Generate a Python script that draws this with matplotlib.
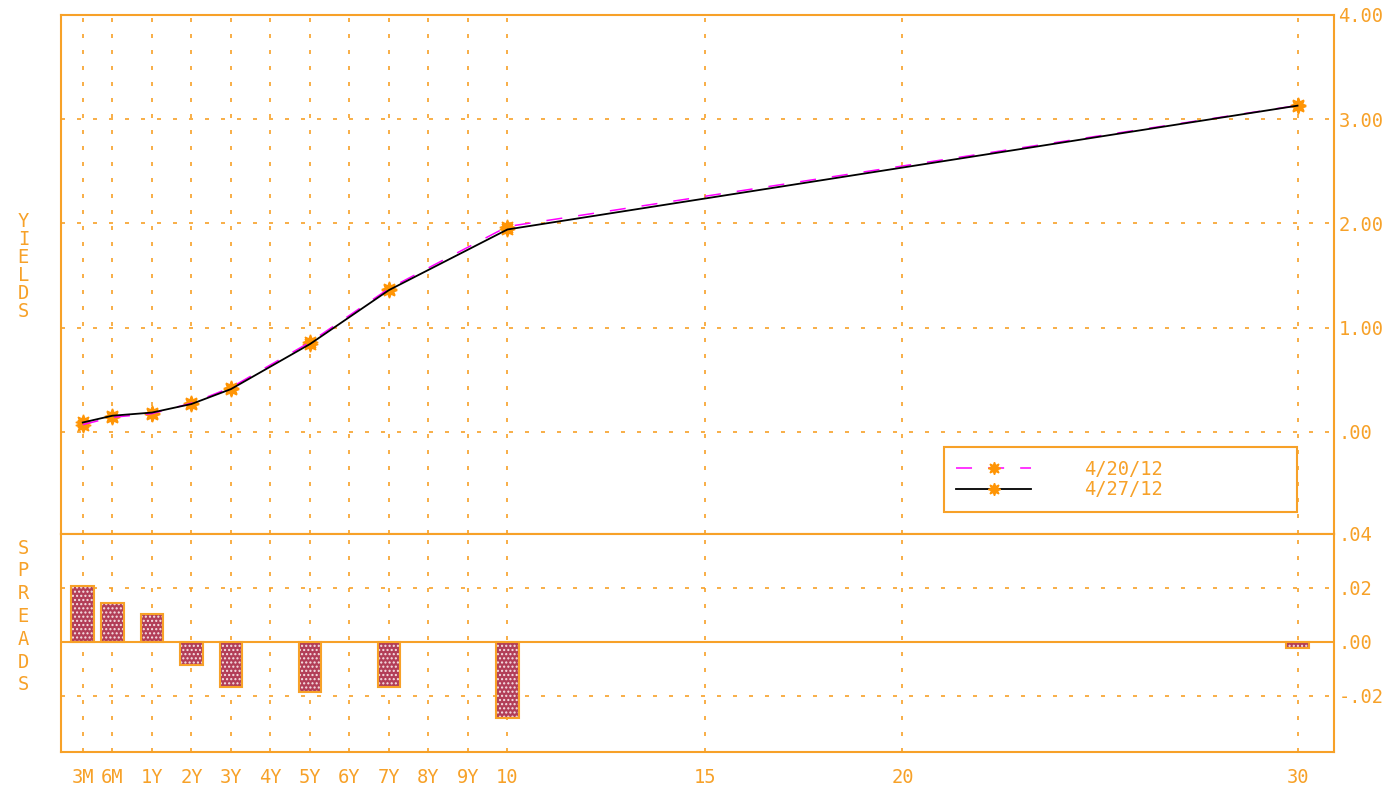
import matplotlib.pyplot as plt
from matplotlib.lines import Line2D

# axis tenors and where the chart puts them (in years, 3M sits left of 6M)
tenors = ['3M', '6M', '1Y', '2Y', '3Y', '4Y', '5Y', '6Y', '7Y', '8Y', '9Y', '10', '15', '20', '30']
tenor_pos = [-0.75, 0, 1, 2, 3, 4, 5, 6, 7, 8, 9, 10, 15, 20, 30]

# observed points
obs_tenors = ['3M', '6M', '1Y', '2Y', '3Y', '5Y', '7Y', '10', '30']
yld_0420 = [0.07, 0.14, 0.175, 0.275, 0.425, 0.86, 1.375, 1.97, 3.132]
yld_0427 = [0.09, 0.155, 0.185, 0.267, 0.41, 0.842, 1.36, 1.942, 3.13]
spreads = [0.0206, 0.0145, 0.0102, -0.0086, -0.0166, -0.0186, -0.0166, -0.0282, -0.0022]

yield_ticks = [0, 1, 2, 3, 4]
yield_labels = ['.00', '1.00', '2.00', '3.00', '4.00']
spread_ticks = [-0.02, 0, 0.02, 0.04]
spread_labels = ['-.02', '.00', '.02', '.04']

orange = '#F7A128'
marker_orange = '#FF9505'
plt.rcParams['font.family'] = 'DejaVu Sans Mono'
plt.rcParams['font.size'] = 13.5
plt.rcParams['hatch.linewidth'] = 1.0

pos = dict(zip(tenors, tenor_pos))
x = [pos[t] for t in obs_tenors]

fig = plt.figure(figsize=(13.9, 7.89), dpi=100)
ax1 = fig.add_axes([0.0439, 0.3232, 0.9160, 0.6578])
ax2 = fig.add_axes([0.0439, 0.0465, 0.9160, 0.2767], sharex=ax1)

star = (8, 1, 0)
for ax in (ax1, ax2):
    for s in ax.spines.values():
        s.set_color(orange)
        s.set_linewidth(1.5)
    ax.set_xlim(-1.3, 30.93)
    ax.set_xticks(tenor_pos)
    ax.yaxis.tick_right()
    ax.tick_params(axis='both', length=0, colors=orange, labelsize=13.5)
    ax.tick_params(axis='y', pad=3)
    ax.tick_params(axis='x', pad=11)
    ax.grid(axis='x', color=orange, lw=1.2, linestyle=(0, (2.4, 7.2)))
    ax.grid(axis='y', color=orange, lw=1.2, linestyle=(0, (2.4, 7.2)))
    ax.set_axisbelow(True)

# yields panel
ax1.set_ylim(-0.98, 4.0)
ax1.set_yticks(yield_ticks)
ax1.set_yticklabels(yield_labels)
ax1.tick_params(axis='x', labelbottom=False)
ax1.plot(x, yld_0420, ls='none', marker=star, ms=11, color=marker_orange, zorder=3)
ax1.plot(x, yld_0427, ls='none', marker=star, ms=11, color=marker_orange, zorder=3)
ax1.plot(x, yld_0420, color='#FF00FF', lw=1.1, ls=(0, (10.5, 10.5)), zorder=4)
ax1.plot(x, yld_0427, color='black', lw=1.3, zorder=5)

handles = [
    Line2D([], [], color='#FF00FF', lw=1.1, ls=(0, (10.5, 10.5)), marker=star, ms=9,
           mfc=marker_orange, mec=marker_orange),
    Line2D([], [], color='black', lw=1.3, marker=star, ms=9,
           mfc=marker_orange, mec=marker_orange),
]
leg = ax1.legend(handles, ['4/20/12', '4/27/12'], loc='lower left',
                 bbox_to_anchor=(0.6935, 0.043, 0.2769, 0.122), mode='expand',
                 handlelength=4.0, handletextpad=2.8, borderpad=0.65, labelspacing=0.1,
                 fancybox=False, framealpha=1, numpoints=1, borderaxespad=0,
                 prop={'family': 'DejaVu Sans Mono', 'size': 13.5})
leg.get_frame().set_edgecolor(orange)
leg.get_frame().set_linewidth(1.5)
for t in leg.get_texts():
    t.set_color(orange)

# spreads panel
ax2.set_ylim(-0.041, 0.04)
ax2.set_yticks(spread_ticks)
ax2.set_yticklabels(spread_labels)
ax2.set_xticklabels(tenors)
ax2.axhline(0, color=orange, lw=1.5, zorder=2)
ax2.bar(x, spreads, width=0.57, color='#B23E58', hatch='....', edgecolor='#F6E2E6', lw=0, zorder=3)
ax2.bar(x, spreads, width=0.57, fill=False, edgecolor=orange, lw=1.5, zorder=4)

for i, ch in enumerate('YIELDS'):
    fig.text(23.3 / 1390, 1 - (221.5 + 18 * i) / 789, ch, color=orange, ha='center', va='center')
for i, ch in enumerate('SPREADS'):
    fig.text(23.3 / 1390, 1 - (548 + 22.8 * i) / 789, ch, color=orange, ha='center', va='center')

fig.savefig('out.png', dpi=100)
